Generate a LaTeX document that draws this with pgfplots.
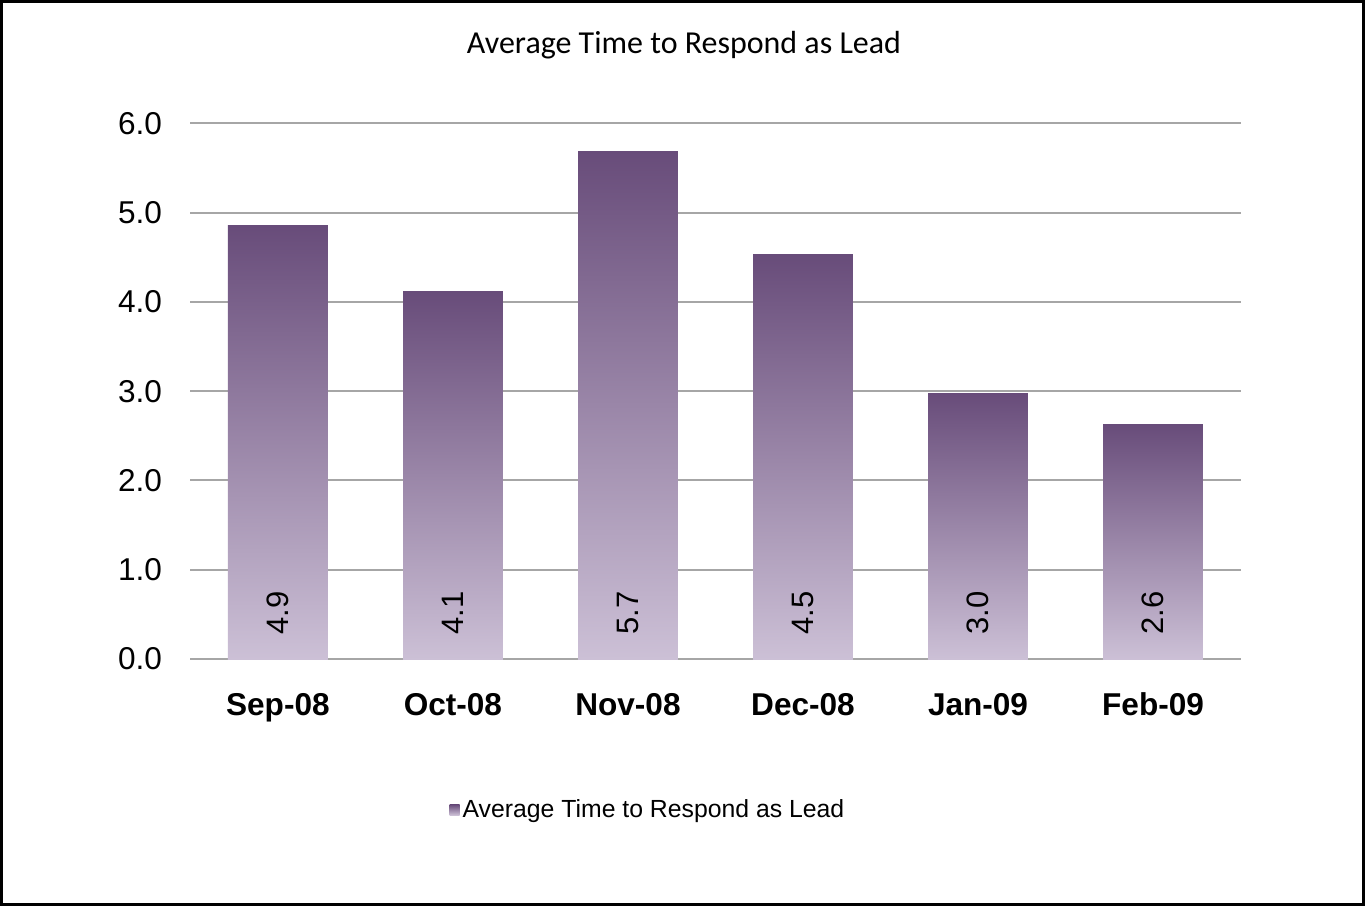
\documentclass[border=0pt]{standalone}
\usepackage{fontspec}
\setmainfont{Liberation Sans}
\newfontfamily\titlefont{Carlito}
\usepackage{pgfplots}
\usepackage{pgfplotstable}
\pgfplotsset{compat=1.18}
\pgfplotsset{/pgf/number format/assume math mode=true}
\definecolor{bartop}{RGB}{104,76,122}
\definecolor{barmid}{RGB}{140,123,155}
\definecolor{barbot}{RGB}{204,192,214}
\definecolor{gridc}{RGB}{166,166,166}
\pgfplotstableread{
x y
0 4.86
1 4.12
2 5.69
3 4.53
4 2.98
5 2.63
}\datatable
\pgfplotsset{barstyle/.style={ybar, bar width=0.57, bar shift=0pt, draw=none,
   top color=bartop, middle color=barmid, bottom color=barbot}}
\begin{document}
\begin{tikzpicture}
\begin{axis}[name=ax, scale only axis, width=525.5bp, height=268bp,
  xmin=-0.5, xmax=5.5, ymin=0, ymax=6,
  axis line style={draw=none},
  major tick length=0pt,
  ytick={0,1,2,3,4,5,6},
  xtick={0,1,2,3,4,5},
  xticklabels={Sep-08,Oct-08,Nov-08,Dec-08,Jan-09,Feb-09},
  ymajorgrids, grid style={draw=gridc, line width=1bp},
  y tick label style={/pgf/number format/.cd, fixed, fixed zerofill, precision=1, /tikz/.cd,
     font=\fontsize{15.8bp}{18bp}\selectfont, inner sep=0pt, xshift=-14bp},
  x tick label style={font=\bfseries\fontsize{15.8bp}{18bp}\selectfont, inner sep=0pt, anchor=base, yshift=-28.5bp},
  legend style={at={(0.4362,-0.2817)}, anchor=center, draw=none, fill=none, inner sep=0pt,
     font=\fontsize{12.4bp}{14bp}\selectfont, nodes={inner sep=1.5bp}},
  legend image code/.code={\fill[top color=bartop, bottom color=barbot] (0bp,-2.6bp) rectangle (5bp,2.6bp);},
  clip=false,
]
% one plot per bar so that each bar carries its own gradient
\addplot[barstyle] coordinates {(0,4.86)};
\addlegendentry{Average Time to Respond as Lead}
\addplot[barstyle, forget plot] coordinates {(1,4.12)};
\addplot[barstyle, forget plot] coordinates {(2,5.69)};
\addplot[barstyle, forget plot] coordinates {(3,4.53)};
\addplot[barstyle, forget plot] coordinates {(4,2.98)};
\addplot[barstyle, forget plot] coordinates {(5,2.63)};
\addplot[draw=none, mark=none, forget plot, point meta=\thisrow{y},
  nodes near coords={\pgfmathprintnumber[fixed,fixed zerofill,precision=1]{\pgfplotspointmeta}},
  every node near coord/.append style={font=\fontsize{15.5bp}{18bp}\selectfont, inner sep=0pt,
     yshift=12bp, rotate=90, anchor=west}]
  table[x=x, y expr=0]{\datatable};
\end{axis}
\draw[line width=1.5bp] ([shift={(-94.5bp,-123bp)}]ax.south west) rectangle ([shift={(587bp,329bp)}]ax.south west);
\node[font=\titlefont\fontsize{16bp}{19bp}\selectfont, inner sep=0pt] at ([shift={(247bp,307bp)}]ax.south west) {Average Time to Respond as Lead};
\end{tikzpicture}
\end{document}
